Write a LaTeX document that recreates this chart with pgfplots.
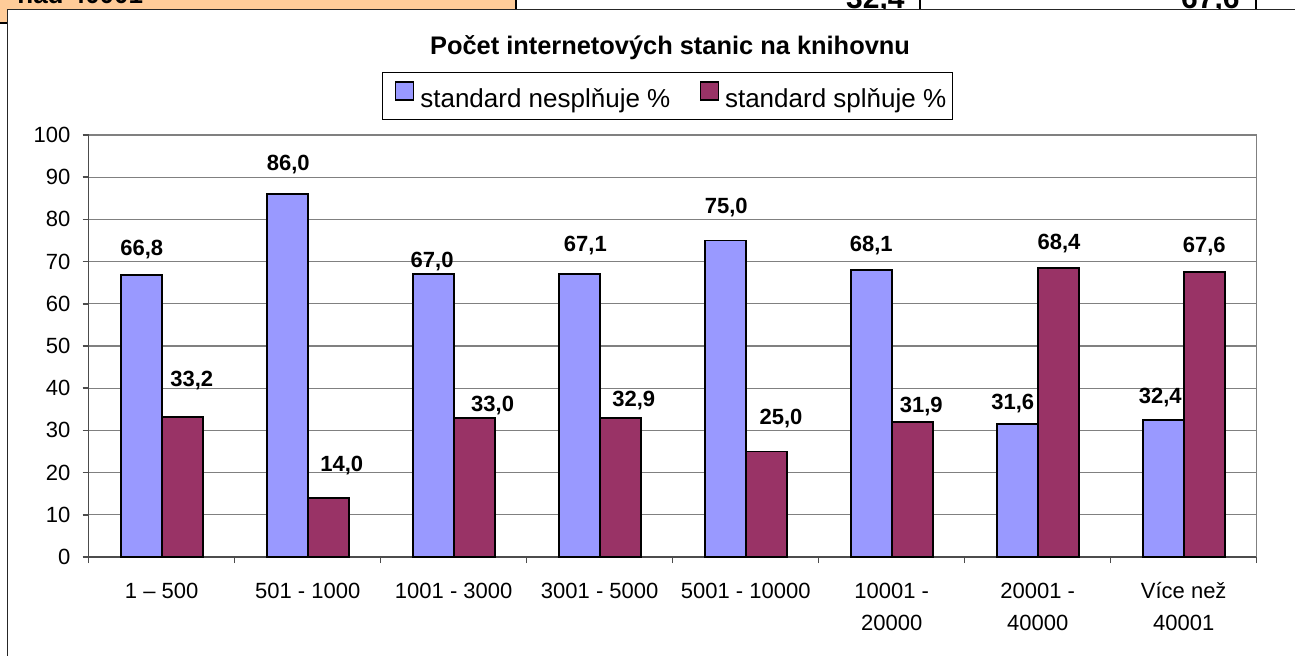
\documentclass[border=0pt]{standalone}
\usepackage{fontspec}
\setmainfont{Liberation Sans}
\usepackage{pgfplots}
\usepackage{pgfplotstable}
\pgfplotsset{compat=1.18}
\definecolor{cblue}{HTML}{9999FF}
\definecolor{cred}{HTML}{993366}
\definecolor{corange}{HTML}{FFCC99}
\definecolor{cgrid}{HTML}{808080}

% dx: label centre from category centre (px); dy: label baseline above bar top (px)
\pgfplotstableread{
x y dx dy
0 66.8 -20.0 19.2
1 86.0 -19.4 23.7
2 67.0 -21.6 7.0
3 67.1 -14.3 22.3
4 75.0 -19.5 27.2
5 68.1 -20.5 18.1
6 31.6 -24.9 14.0
7 32.4 -23.4 16.7
}\blueT
\pgfplotstableread{
x y dx dy
0 33.2 30.0 30.7
1 14.0 34.0 26.7
2 33.0 38.9 6.7
3 32.9 34.1 11.3
4 25.0 35.3 27.0
5 31.9 29.6 9.7
6 68.4 21.3 18.8
7 67.6 20.6 18.8
}\redT

\pgfplotsset{
  sqlegend/.style={legend image code/.code={\path (0pt,0pt); \draw[##1, line width=0.75pt] (3pt,0pt) rectangle (12pt,9pt);}},
  barlabels/.style={draw=none, mark=none, forget plot,
    nodes near coords={\pgfmathprintnumber[fixed,fixed zerofill,precision=1,use comma,assume math mode=true]{\pgfplotspointmeta}},
    point meta=y,
    visualization depends on={\thisrow{dx} \as \labdx},
    visualization depends on={\thisrow{dy} \as \labdy},
    every node near coord/.style={anchor=base, inner sep=0pt, text=black, fill=none, draw=none,
      font=\bfseries\fontsize{11}{13}\selectfont, xshift=\labdx*0.5pt, yshift=\labdy*0.5pt}},
}

\begin{document}
\begin{tikzpicture}
\begin{scope}[x=0.5pt,y=-0.5pt]
\useasboundingbox (0,0) rectangle (1295,655);
\clip (0,0) rectangle (1295,655);
\fill[white] (0,0) rectangle (1295,655);
\fill[corange] (-5,-5) rectangle (516,23);
\draw[black, line width=1pt] (-5,23) -- (1300,23);
\draw[black, line width=0.75pt] (516,-5) -- (516,23) (920,-5) -- (920,23) (1256,-5) -- (1256,23);
\node[anchor=base west, inner sep=0pt, font=\bfseries\fontsize{13}{15}\selectfont] at (17,3) {nad 40001};
\node[anchor=base east, inner sep=0pt, font=\bfseries\fontsize{15}{18}\selectfont] at (905,8.5) {32,4};
\node[anchor=base east, inner sep=0pt, font=\bfseries\fontsize{15}{18}\selectfont] at (1240,8.5) {67,6};
\filldraw[fill=white, draw=black!85, line width=0.75pt] (7.5,9.5) rectangle (1400,700);
\node[anchor=base, inner sep=0pt, font=\bfseries\fontsize{12.7}{15}\selectfont] at (670,54) {Počet internetových stanic na knihovnu};
\end{scope}
\begin{axis}[
  at={(44.35pt,-278.5pt)}, anchor=south west,
  scale only axis, width=584pt, height=211pt,
  xmin=-0.5, xmax=7.5, ymin=0, ymax=100,
  enlargelimits=false, clip=false,
  axis x line*=bottom, axis y line*=left,
  xtick={-0.5,0.5,...,7.5},
  x tick label as interval,
  xticklabels={{\rule{0pt}{12pt}1 – 500},{\rule{0pt}{12pt}501 - 1000},{\rule{0pt}{12pt}1001 - 3000},{\rule{0pt}{12pt}3001 - 5000},{\rule{0pt}{12pt}5001 - 10000},{\rule{0pt}{12pt}10001 -\\20000},{\rule{0pt}{12pt}20001 -\\40000},{\rule{0pt}{12pt}Více než\\40001}},
  ytick={0,10,...,100},
  tick align=outside, major tick length=3pt,
  ymajorgrids, grid style={cgrid, line width=0.6pt},
  axis line style={black!70, line width=0.75pt, -},
  every tick/.style={black!70, line width=0.75pt},
  /pgf/number format/assume math mode=true,
  y tick label style={font=\fontsize{11}{13}\selectfont, inner sep=0pt, anchor=east, xshift=-6pt},
  x tick label style={font=\fontsize{11}{16}\selectfont, inner sep=0pt, anchor=north, align=center, yshift=-5.5pt},
  legend style={at={(0.4955,1.0924)}, anchor=center, draw=black, line width=0.6pt, fill=white,
    font=\fontsize{13}{15.6}\selectfont, inner xsep=3pt, inner ysep=4.5pt,
    nodes={inner sep=0pt},
    /tikz/every odd column/.append style={column sep=3pt},
    /tikz/column 2/.style={column sep=11.5pt}},
  legend columns=2,
]
\addplot[ybar, bar width=20.5pt, bar shift=-10.25pt, fill=cblue, draw=black, line width=0.9pt, sqlegend] table[x=x, y=y] {\blueT};
\addplot[ybar, bar width=20.5pt, bar shift=10.25pt, fill=cred, draw=black, line width=0.9pt, sqlegend] table[x=x, y=y] {\redT};
\addplot[barlabels] table[x=x, y=y] {\blueT};
\addplot[barlabels] table[x=x, y=y] {\redT};
\draw[cgrid, line width=0.6pt] (rel axis cs:1,0) -- (rel axis cs:1,1);
\legend{standard nesplňuje \%, standard splňuje \%}
\end{axis}
\end{tikzpicture}
\end{document}
